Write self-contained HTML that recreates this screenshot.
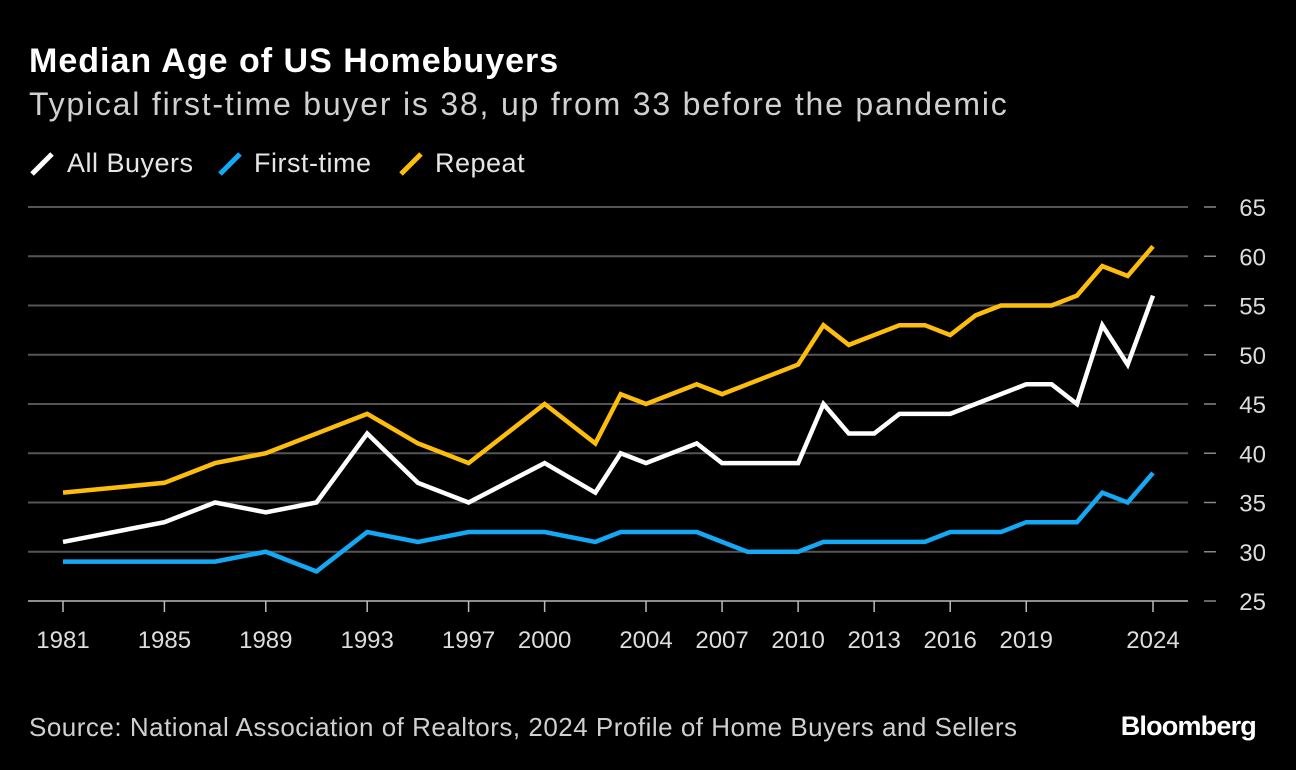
<!DOCTYPE html>
<html><head><meta charset="utf-8"><style>
body{margin:0;background:#000;width:1296px;height:770px;overflow:hidden;font-family:"Liberation Sans",sans-serif;color:#fff}
#title{position:absolute;left:29px;top:42px;font-size:34px;font-weight:bold;letter-spacing:1px}
#sub{position:absolute;left:29px;top:86px;font-size:32px;color:#d0d0d0;letter-spacing:1.8px}
.li{position:absolute;top:148px;font-size:27px;color:#e6e6e6;letter-spacing:0.5px}
.ic{position:absolute;top:151px}
#src{position:absolute;left:29px;top:712px;font-size:26px;color:#d0d0d0;letter-spacing:0.5px}
#logo{position:absolute;right:40px;top:711px;font-size:27px;font-weight:bold;letter-spacing:-0.8px}
#chart{position:absolute;left:0;top:0}
</style></head><body>
<div id="title">Median Age of US Homebuyers</div>
<div id="sub">Typical first-time buyer is 38, up from 33 before the pandemic</div>
<div>
<svg class="ic" style="left:29px" width="26" height="26"><line x1="3" y1="23" x2="23" y2="3" stroke="#fff" stroke-width="5"/></svg>
<div class="li" style="left:67px">All Buyers</div>
<svg class="ic" style="left:217px" width="26" height="26"><line x1="3" y1="23" x2="23" y2="3" stroke="#14a9f5" stroke-width="5"/></svg>
<div class="li" style="left:254px">First-time</div>
<svg class="ic" style="left:398px" width="26" height="26"><line x1="3" y1="23" x2="23" y2="3" stroke="#fcbd0c" stroke-width="5"/></svg>
<div class="li" style="left:435px">Repeat</div>
</div>
<svg id="chart" width="1296" height="770"></svg>
<div id="src">Source: National Association of Realtors, 2024 Profile of Home Buyers and Sellers</div>
<div id="logo">Bloomberg</div>
<script>
const years=[1981,1985,1987,1989,1991,1993,1995,1997,2000,2002,2003,2004,2006,2007,2008,2009,2010,2011,2012,2013,2014,2015,2016,2017,2018,2019,2020,2021,2022,2023,2024];
const allBuyers=[31,33,35,34,35,42,37,35,39,36,40,39,41,39,39,39,39,45,42,42,44,44,44,45,46,47,47,45,53,49,56];
const firstTime=[29,29,29,30,28,32,31,32,32,31,32,32,32,31,30,30,30,31,31,31,31,31,32,32,32,33,33,33,36,35,38];
const repeat=[36,37,39,40,42,44,41,39,45,41,46,45,47,46,47,48,49,53,51,52,53,53,52,54,55,55,55,56,59,58,61];
const yTicks=[25,30,35,40,45,50,55,60,65];
const xTicks=[1981,1985,1989,1993,1997,2000,2004,2007,2010,2013,2016,2019,2024];
const NS='http://www.w3.org/2000/svg';
const svg=document.getElementById('chart');
const X=y=>63+(y-1981)*(1153-63)/43;
const Y=v=>601-(v-25)*(601-207)/40;
function mk(t,a){const e=document.createElementNS(NS,t);for(const k in a)e.setAttribute(k,a[k]);svg.appendChild(e);return e;}
yTicks.forEach(v=>{
 const l=mk('line',{x1:28,x2:1188,y1:Y(v),y2:Y(v),stroke:v===25?'#bbb':'#555','stroke-width':v===25?1.5:2});
 
 
 const d=mk('line',{x1:1204,x2:1216,y1:Y(v),y2:Y(v),stroke:'#888','stroke-width':1.5});
 
 
 const t=mk('text',{x:1266,y:Y(v)+9,'text-anchor':'end','font-size':24,fill:'#ddd','font-family':'Liberation Sans'});
 t.textContent=v;
 
 
});
xTicks.forEach(y=>{
 const m=mk('line',{x1:X(y),x2:X(y),y1:601,y2:612,stroke:'#bbb','stroke-width':1.5});
 
 
 const t=mk('text',{x:X(y),y:648,'text-anchor':'middle','font-size':24,fill:'#ddd','font-family':'Liberation Sans'});
 t.textContent=y;
 
 
});
function series(vals,color,name){
 const p=mk('polyline',{points:years.map((y,i)=>X(y)+','+Y(vals[i])).join(' '),fill:'none',stroke:color,'stroke-width':4.5,'stroke-linejoin':'miter','stroke-linecap':'butt'});
 
 
}
series(firstTime,'#14a9f5','first-time-line');
series(allBuyers,'#ffffff','all-buyers-line');
series(repeat,'#fcbd0c','repeat-line');
</script>
</body></html>
